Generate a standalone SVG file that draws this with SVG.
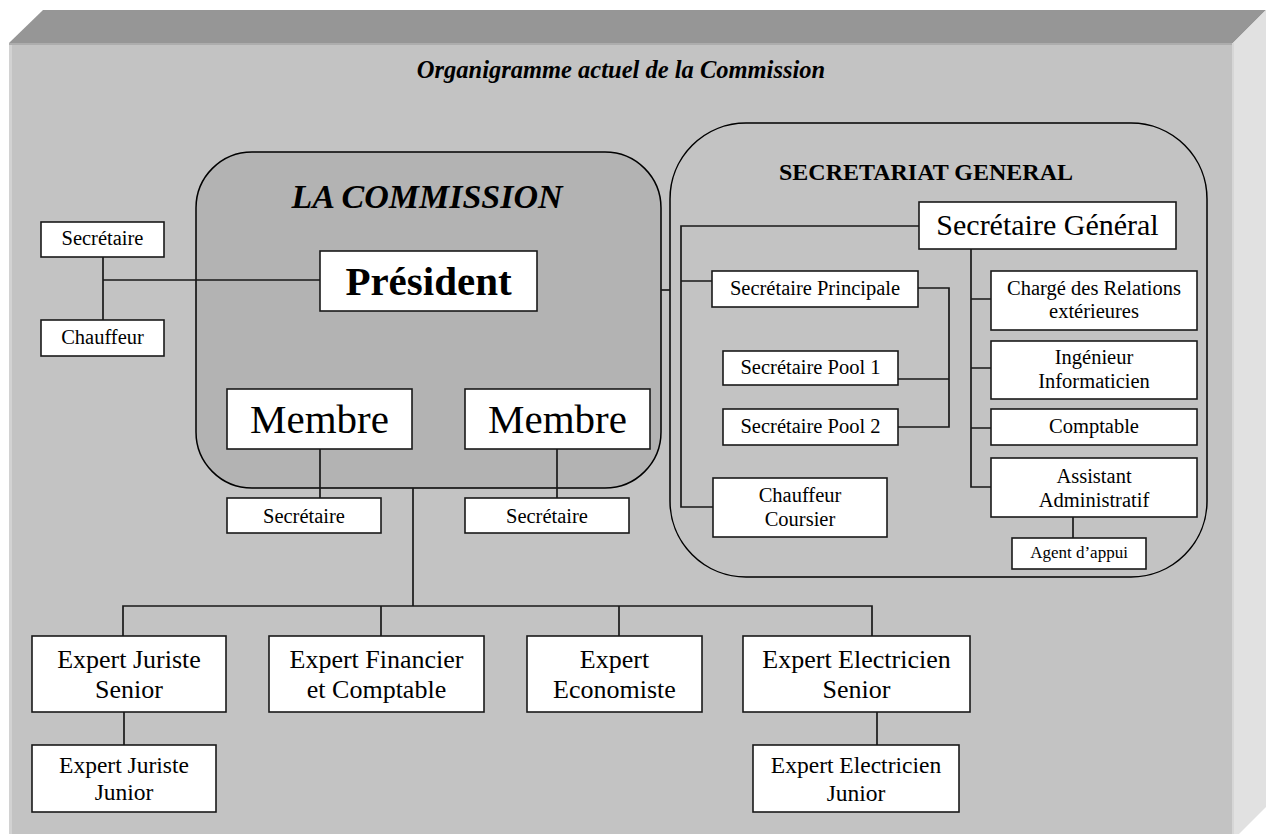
<svg xmlns="http://www.w3.org/2000/svg" width="1266" height="834" viewBox="0 0 1266 834">
<style>
.t{font-family:"Liberation Serif","Times New Roman",serif;fill:#000;text-anchor:middle}
.b{fill:#fff;stroke:#1a1a1a;stroke-width:1.6}
.c{fill:none;stroke:#1a1a1a;stroke-width:1.7}
.s20{font-size:20.5px}
.s26{font-size:26px}
.s24{font-size:23.5px}
</style>
<rect width="1266" height="834" fill="#fff"/>
<g id="background">
<polygon points="9,43 43,10 1266,10 1233,43" fill="#969696"/>
<polygon points="1233,43 1266,10 1266,807 1233,840" fill="#e1e1e1"/>
<rect x="9" y="43" width="1224" height="800" fill="#c3c3c3"/>
<rect x="9" y="43" width="3" height="800" fill="#d2d2d2"/>
<rect x="9" y="43" width="1224" height="2" fill="#adadad"/>
<rect x="1232" y="43" width="2" height="800" fill="#d6d6d6"/>
</g>
<text id="title" class="t" x="621" y="78" font-size="24.5" font-weight="bold" font-style="italic">Organigramme actuel de la Commission</text>
<g id="commission">
<rect x="196" y="152" width="465" height="336" rx="56" ry="56" fill="#b3b3b3" stroke="#000" stroke-width="1.5"/>
<text class="t" x="427" y="208" font-size="34" font-weight="bold" font-style="italic">LA COMMISSION</text>
</g>
<g id="secretariat">
<rect x="670" y="123" width="537" height="454" rx="76" ry="76" fill="none" stroke="#000" stroke-width="1.5"/>
<text class="t" x="926" y="180" font-size="24" font-weight="bold">SECRETARIAT GENERAL</text>
</g>
<g id="connectors">
<path class="c" d="M103,257 V320 M103,280 H320"/>
<path class="c" d="M661,290 H670"/>
<path class="c" d="M320,449 V498 M557,449 V498"/>
<path class="c" d="M413,488 V606 M123,636 V606 H872 V636 M381,606 V636 M619,606 V636"/>
<path class="c" d="M124,712 V745 M877,712 V745"/>
<path class="c" d="M919,226 H681 V507 H713 M681,281 H712"/>
<path class="c" d="M918,288 H949 V427 H898 M898,379 H949"/>
<path class="c" d="M971,249 V487 H991 M971,299 H991 M971,368 H991 M971,428 H991"/>
<path class="c" d="M1073,517 V538"/>
</g>
<g id="n-secretaire-pres"><rect class="b" x="41" y="222" width="123" height="35"/><text class="t s20" x="102.5" y="245">Secrétaire</text></g>
<g id="n-chauffeur"><rect class="b" x="41" y="320" width="123" height="36"/><text class="t s20" x="102.5" y="344">Chauffeur</text></g>
<g id="n-president"><rect class="b" x="320" y="251" width="217" height="60"/><text class="t" x="428.5" y="295" font-size="41" font-weight="bold">Président</text></g>
<g id="n-membre1"><rect class="b" x="227" y="389" width="185" height="60"/><text class="t" x="319.5" y="433" font-size="41">Membre</text></g>
<g id="n-membre2"><rect class="b" x="465" y="389" width="185" height="60"/><text class="t" x="557.5" y="433" font-size="41">Membre</text></g>
<g id="n-secretaire1"><rect class="b" x="227" y="498" width="154" height="35"/><text class="t s20" x="304" y="523">Secrétaire</text></g>
<g id="n-secretaire2"><rect class="b" x="465" y="498" width="164" height="35"/><text class="t s20" x="547" y="523">Secrétaire</text></g>
<g id="n-sg"><rect class="b" x="919" y="202" width="257" height="47"/><text class="t" x="1047.5" y="235" font-size="30">Secrétaire Général</text></g>
<g id="n-sp"><rect class="b" x="712" y="271" width="206" height="36"/><text class="t s20" x="815" y="295">Secrétaire Principale</text></g>
<g id="n-pool1"><rect class="b" x="723" y="351" width="175" height="34"/><text class="t s20" x="810.5" y="374">Secrétaire Pool 1</text></g>
<g id="n-pool2"><rect class="b" x="723" y="409" width="175" height="36"/><text class="t s20" x="810.5" y="433">Secrétaire Pool 2</text></g>
<g id="n-coursier"><rect class="b" x="713" y="478" width="174" height="59"/><text class="t s20" x="800" y="502">Chauffeur</text><text class="t s20" x="800" y="526">Coursier</text></g>
<g id="n-relations"><rect class="b" x="991" y="271" width="206" height="59"/><text class="t s20" x="1094" y="295">Chargé des Relations</text><text class="t s20" x="1094" y="318">extérieures</text></g>
<g id="n-ingenieur"><rect class="b" x="991" y="341" width="206" height="58"/><text class="t s20" x="1094" y="364">Ingénieur</text><text class="t s20" x="1094" y="388">Informaticien</text></g>
<g id="n-comptable"><rect class="b" x="991" y="409" width="206" height="36"/><text class="t s20" x="1094" y="433">Comptable</text></g>
<g id="n-assistant"><rect class="b" x="991" y="458" width="206" height="59"/><text class="t s20" x="1094" y="483">Assistant</text><text class="t s20" x="1094" y="507">Administratif</text></g>
<g id="n-agent"><rect class="b" x="1012" y="538" width="134" height="31"/><text class="t" x="1079" y="558" font-size="17">Agent d’appui</text></g>
<g id="n-juriste-s"><rect class="b" x="32" y="636" width="194" height="76"/><text class="t s26" x="129" y="668">Expert Juriste</text><text class="t s26" x="129" y="698">Senior</text></g>
<g id="n-financier"><rect class="b" x="269" y="636" width="215" height="76"/><text class="t s26" x="376.5" y="668">Expert Financier</text><text class="t s26" x="376.5" y="698">et Comptable</text></g>
<g id="n-economiste"><rect class="b" x="527" y="636" width="175" height="76"/><text class="t s26" x="614.5" y="668">Expert</text><text class="t s26" x="614.5" y="698">Economiste</text></g>
<g id="n-electricien-s"><rect class="b" x="743" y="636" width="227" height="76"/><text class="t s26" x="856.5" y="668">Expert Electricien</text><text class="t s26" x="856.5" y="698">Senior</text></g>
<g id="n-juriste-j"><rect class="b" x="32" y="745" width="184" height="67"/><text class="t s24" x="124" y="773">Expert Juriste</text><text class="t s24" x="124" y="800">Junior</text></g>
<g id="n-electricien-j"><rect class="b" x="753" y="745" width="206" height="67"/><text class="t s24" x="856" y="773">Expert Electricien</text><text class="t s24" x="856" y="801">Junior</text></g>
</svg>
